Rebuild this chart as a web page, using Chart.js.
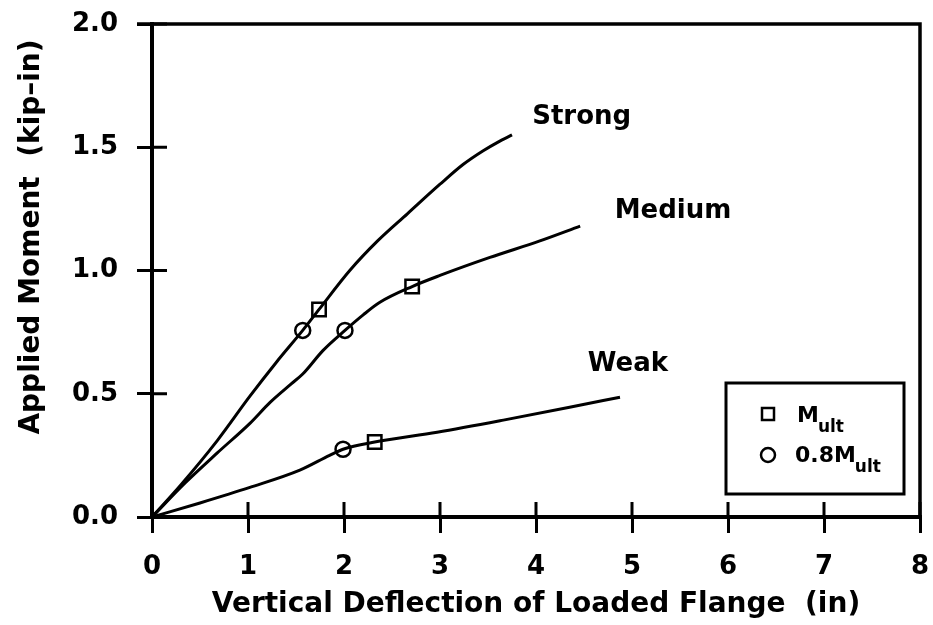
<!DOCTYPE html>
<html>
<head>
<meta charset="utf-8">
<script src="https://cdn.jsdelivr.net/npm/chart.js@4.4.0/dist/chart.umd.min.js"></script>
<style>
html,body{margin:0;padding:0;background:#fff;}
#wrap{width:933px;height:625px;}
</style>
</head>
<body>
<div id="wrap"><canvas id="c" width="933" height="625"></canvas></div>
<script>
// ---- data ----
const xTicks = [0, 1, 2, 3, 4, 5, 6, 7, 8];
const yTicks = [0.0, 0.5, 1.0, 1.5, 2.0];

const strongX = [0, 0.30, 0.68, 1.02, 1.30, 1.57, 1.74, 2.06, 2.35, 2.66, 3.00, 3.24, 3.45, 3.60, 3.75];
const strongY = [0, 0.13, 0.31, 0.49, 0.63, 0.757, 0.842, 1.00, 1.12, 1.23, 1.35, 1.43, 1.486, 1.52, 1.55];

const mediumX = [0, 0.35, 0.68, 1.02, 1.23, 1.45, 1.57, 1.78, 2.01, 2.20, 2.37, 2.71, 3.00, 3.52, 4.04, 4.46];
const mediumY = [0, 0.14, 0.26, 0.38, 0.465, 0.54, 0.58, 0.675, 0.757, 0.82, 0.87, 0.935, 0.98, 1.053, 1.12, 1.18];

const weakX = [0, 0.50, 1.02, 1.54, 1.85, 1.99, 2.32, 2.97, 3.66, 4.35, 4.875];
const weakY = [0, 0.057, 0.12, 0.19, 0.25, 0.275, 0.304, 0.344, 0.393, 0.445, 0.486];

const multX = [1.74, 2.71, 2.32];
const multY = [0.842, 0.935, 0.304];

const m08X = [1.57, 2.01, 1.99];
const m08Y = [0.757, 0.757, 0.275];

const curveNames = ["Strong", "Medium", "Weak"];
const curveLabelX = [3.96, 4.82, 4.54];
const curveLabelY = [1.62, 1.24, 0.62];

const xTitle = "Vertical Deflection of Loaded Flange  (in)";
const yTitle = "Applied Moment  (kip\u2013in)";
const legendMain = ["M", "0.8M"];
const legendSub = ["ult", "ult"];

// ---- helpers ----
const pts = (xs, ys) => xs.map((v, i) => ({x: v, y: ys[i]}));
const FONT = "'DejaVu Sans', 'Liberation Sans', sans-serif";

const curveStyle = {
  showLine: true, borderColor: '#000', borderWidth: 3, pointRadius: 0,
  cubicInterpolationMode: 'monotone', fill: false
};

const decor = {
  id: 'decor',
  beforeDraw(chart) {
    const ctx = chart.ctx;
    ctx.save();
    ctx.fillStyle = '#fff';
    ctx.fillRect(0, 0, chart.width, chart.height);
    ctx.restore();
  },
  afterDraw(chart) {
    const {ctx, chartArea: a, scales: {x, y}} = chart;
    ctx.save();
    ctx.strokeStyle = '#000';
    ctx.lineCap = 'butt';
    // top and right frame
    ctx.lineWidth = 3.5;
    ctx.beginPath();
    ctx.moveTo(a.left - 15, a.top);
    ctx.lineTo(a.right, a.top);
    ctx.lineTo(a.right, a.bottom + 1);
    ctx.stroke();
    // inner ticks
    ctx.lineWidth = 3;
    ctx.beginPath();
    xTicks.forEach(v => { const px = x.getPixelForValue(v); ctx.moveTo(px, a.bottom); ctx.lineTo(px, a.bottom - 15); });
    yTicks.forEach(v => { const py = y.getPixelForValue(v); ctx.moveTo(a.left, py); ctx.lineTo(a.left + 15, py); });
    ctx.stroke();

    // curve labels
    ctx.fillStyle = '#000';
    ctx.font = "bold 26px " + FONT;
    ctx.textAlign = 'left';
    ctx.textBaseline = 'middle';
    curveNames.forEach((n, i) => {
      ctx.fillText(n, x.getPixelForValue(curveLabelX[i]), y.getPixelForValue(curveLabelY[i]));
    });

    // y title
    ctx.save();
    ctx.translate(32, 237);
    ctx.rotate(-Math.PI / 2);
    ctx.font = "bold 28px " + FONT;
    ctx.textAlign = 'center';
    ctx.textBaseline = 'middle';
    ctx.fillText(yTitle, 0, 0);
    ctx.restore();

    // legend box
    const bx = a.right - 194, by = a.bottom - 134, bw = 178, bh = 111;
    ctx.fillStyle = '#fff';
    ctx.fillRect(bx, by, bw, bh);
    ctx.lineWidth = 3;
    ctx.strokeRect(bx, by, bw, bh);
    ctx.lineWidth = 2.5;
    // square marker
    ctx.strokeRect(bx + 36, by + 25, 12, 12);
    // circle marker
    ctx.beginPath();
    ctx.arc(bx + 42, by + 72, 7, 0, Math.PI * 2);
    ctx.stroke();
    ctx.fillStyle = '#000';
    ctx.textAlign = 'left';
    ctx.textBaseline = 'alphabetic';
    const rows = [[bx + 71, by + 39], [bx + 69, by + 79]];
    rows.forEach((r, i) => {
      ctx.font = "bold 22px " + FONT;
      ctx.fillText(legendMain[i], r[0], r[1]);
      const w = ctx.measureText(legendMain[i]).width;
      ctx.font = "bold 17px " + FONT;
      ctx.fillText(legendSub[i], r[0] + w - 1, r[1] + 10);
    });
    ctx.restore();
  }
};

new Chart(document.getElementById('c'), {
  type: 'scatter',
  data: {
    datasets: [
      Object.assign({label: 'Strong', data: pts(strongX, strongY)}, curveStyle),
      Object.assign({label: 'Medium', data: pts(mediumX, mediumY)}, curveStyle),
      Object.assign({label: 'Weak', data: pts(weakX, weakY)}, curveStyle),
      {label: 'M_ult', data: pts(multX, multY), pointStyle: 'rect', pointRadius: 9.5,
       pointBorderColor: '#000', pointBackgroundColor: 'rgba(0,0,0,0)', pointBorderWidth: 2.5, showLine: false},
      {label: '0.8M_ult', data: pts(m08X, m08Y), pointStyle: 'circle', pointRadius: 7.5,
       pointBorderColor: '#000', pointBackgroundColor: 'rgba(0,0,0,0)', pointBorderWidth: 2.5, showLine: false}
    ]
  },
  options: {
    responsive: false,
    animation: false,
    devicePixelRatio: 1,
    layout: {padding: {top: 24, right: 13, left: 0, bottom: 0}},
    plugins: {legend: {display: false}, tooltip: {enabled: false}},
    scales: {
      x: {
        type: 'linear', min: 0, max: 8,
        afterBuildTicks: s => { s.ticks = xTicks.map(v => ({value: v})); },
        afterFit: s => { s.height = 108; s.paddingLeft = 0; s.paddingRight = 0; },
        ticks: {color: '#000', font: {family: FONT, size: 26, weight: 'bold'}, padding: 19,
                callback: v => String(v)},
        grid: {drawOnChartArea: false, drawTicks: true, tickLength: 16, color: '#000', lineWidth: 3},
        border: {display: true, color: '#000', width: 4},
        title: {display: true, text: xTitle, color: '#000',
                font: {family: FONT, size: 28, weight: 'bold'}, padding: {top: 0, bottom: 3}}
      },
      y: {
        type: 'linear', min: 0, max: 2,
        afterBuildTicks: s => { s.ticks = yTicks.map(v => ({value: v})); },
        afterFit: s => { s.width = 152; s.paddingTop = 0; s.paddingBottom = 0; },
        ticks: {color: '#000', font: {family: FONT, size: 26, weight: 'bold'}, padding: 19,
                callback: v => Number(v).toFixed(1)},
        grid: {drawOnChartArea: false, drawTicks: true, tickLength: 15, color: '#000', lineWidth: 3},
        border: {display: true, color: '#000', width: 4}
      }
    }
  },
  plugins: [decor]
});
</script>
</body>
</html>
